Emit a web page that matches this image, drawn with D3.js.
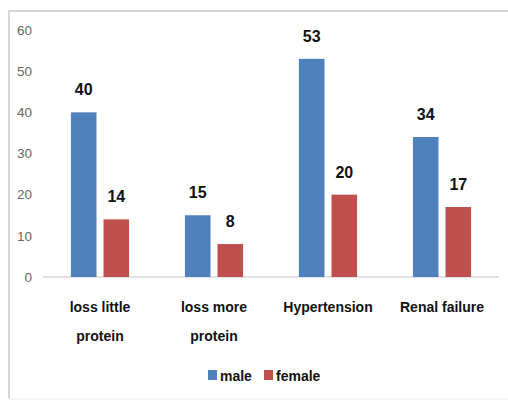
<!DOCTYPE html>
<html>
<head>
<meta charset="utf-8">
<script src="https://cdn.jsdelivr.net/npm/d3@7"></script>
<style>
  body { margin: 0; background: #fff; }
  svg { display: block; }
</style>
</head>
<body>
<div id="chart"></div>
<script>
// Data
const categories = [['loss little', 'protein'], ['loss more', 'protein'], ['Hypertension'], ['Renal failure']];
const seriesNames = ['male', 'female'];
const male = [40, 15, 53, 34];
const female = [14, 8, 20, 17];
const yTicks = [0, 10, 20, 30, 40, 50, 60];

const colors = ['#4f81bd', '#c0504d'];
const W = 508, H = 400;
const margin = { top: 30, right: 9, bottom: 123, left: 43 };
const width = W - margin.left - margin.right;
const height = H - margin.top - margin.bottom;
const font = '"Liberation Sans", Arial, sans-serif';

const svg = d3.select('#chart')
    .append('svg')
    .attr('width', W)
    .attr('height', H);

// Outer frame (top and left edges visible)
svg.append('path')
    .attr('d', `M9,${H - 1.5}V11H${W}`)
    .attr('fill', 'none')
    .attr('stroke', '#d6d6d6')
    .attr('stroke-width', 2);
svg.append('line')
    .attr('x1', 9).attr('x2', W)
    .attr('y1', H - 1).attr('y2', H - 1)
    .attr('stroke', '#ececec');

const g = svg.append('g')
    .attr('transform', `translate(${margin.left}, ${margin.top})`);

const keys = categories.map((c, i) => i);
const x0 = d3.scaleBand()
    .domain(keys)
    .range([0, width])
    .paddingInner(0.49)
    .paddingOuter(0.245);

const x1 = d3.scaleBand()
    .domain(seriesNames)
    .range([0, x0.bandwidth()])
    .paddingInner(0.215);

const y = d3.scaleLinear()
    .domain([0, 60])
    .range([height, 0]);

// y axis labels
const yAxis = d3.axisLeft(y).tickValues(yTicks).tickSize(0).tickPadding(11);
g.append('g')
    .call(yAxis)
    .call(s => s.select('.domain').remove())
    .selectAll('text')
    .attr('fill', '#666')
    .style('font-family', font)
    .style('font-size', '13.5px');

// baseline
g.append('line')
    .attr('x1', 0).attr('x2', width)
    .attr('y1', y(0)).attr('y2', y(0))
    .attr('stroke', '#d9d9d9')
    .attr('stroke-width', 1.5);

const rows = keys.map(i => ({ i, values: [male[i], female[i]] }));

const groups = g.selectAll('.grp')
    .data(rows)
    .enter()
    .append('g')
    .attr('class', 'grp')
    .attr('transform', d => `translate(${x0(d.i)}, 0)`);

groups.selectAll('rect')
    .data(d => d.values.map((v, k) => ({ key: seriesNames[k], v, k })))
    .enter()
    .append('rect')
    .attr('x', d => x1(d.key))
    .attr('y', d => y(d.v))
    .attr('width', x1.bandwidth())
    .attr('height', d => y(0) - y(d.v))
    .attr('fill', d => colors[d.k]);

groups.selectAll('.val')
    .data(d => d.values.map((v, k) => ({ key: seriesNames[k], v, k })))
    .enter()
    .append('text')
    .attr('class', 'val')
    .attr('x', d => x1(d.key) + x1.bandwidth() / 2)
    .attr('y', d => y(d.v) - 17)
    .attr('text-anchor', 'middle')
    .style('font-family', font)
    .style('font-weight', 'bold')
    .style('font-size', '16px')
    .attr('fill', '#111')
    .text(d => d.v);

// category labels
const catLabels = g.selectAll('.cat')
    .data(rows)
    .enter()
    .append('text')
    .attr('class', 'cat')
    .attr('x', d => x0(d.i) + x0.bandwidth() / 2)
    .attr('y', height + 35)
    .attr('text-anchor', 'middle')
    .style('font-family', font)
    .style('font-weight', 'bold')
    .style('font-size', '14px')
    .attr('fill', '#111');

catLabels.selectAll('tspan')
    .data(d => categories[d.i])
    .enter()
    .append('tspan')
    .attr('x', function() { return d3.select(this.parentNode).attr('x'); })
    .attr('dy', (d, j) => j === 0 ? 0 : 29)
    .text(d => d);

// legend
const legend = svg.append('g')
    .attr('transform', 'translate(208, 370)');
const legendX = [0, 56];
seriesNames.forEach((name, k) => {
    legend.append('rect')
        .attr('x', legendX[k])
        .attr('y', 0)
        .attr('width', 9)
        .attr('height', 10)
        .attr('fill', colors[k]);
    legend.append('text')
        .attr('x', legendX[k] + 12)
        .attr('y', 11)
        .style('font-family', font)
        .style('font-weight', 'bold')
        .style('font-size', '14px')
        .attr('fill', '#111')
        .text(name);
});
</script>
</body>
</html>
